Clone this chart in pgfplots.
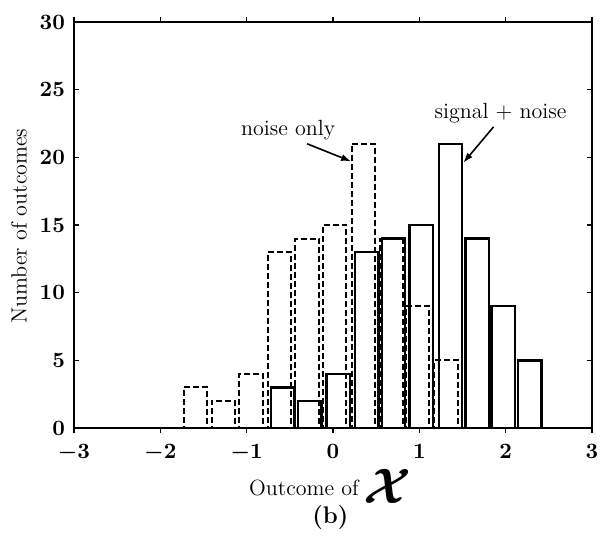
\documentclass[border=0pt]{standalone}
\usepackage{pgfplots}
\pgfplotsset{compat=1.18}
\usepackage{bm}
\usetikzlibrary{arrows.meta}

% Histogram of 100 outcomes, noise only and signal + noise
\pgfplotstableread{
x    n
-1.59 3
-1.27 2
-0.95 4
-0.62 13
-0.30 14
 0.02 15
 0.35 21
 0.68 14
 0.98 9
 1.31 5
}\noiseonly
\pgfplotstableread{
x    n
-0.58 3
-0.27 2
 0.06 4
 0.39 13
 0.70 14
 1.02 15
 1.36 21
 1.67 14
 1.97 9
 2.28 5
}\signalnoise

\begin{document}
\begin{tikzpicture}
\useasboundingbox (-37pt,-58pt) rectangle (263pt,214pt);
\begin{axis}[
  scale only axis,
  width=259pt, height=203pt,
  xmin=-3, xmax=3, ymin=0, ymax=30,
  xtick={-3,-2,-1,0,1,2,3},
  xticklabels={$\bm{-3}$,$\bm{-2}$,$\bm{-1}$,$\bm{0}$,$\bm{1}$,$\bm{2}$,$\bm{3}$},
  ytick={0,5,10,15,20,25,30},
  yticklabels={$\bm{0}$,$\bm{5}$,$\bm{10}$,$\bm{15}$,$\bm{20}$,$\bm{25}$,$\bm{30}$},
  tick align=inside,
  major tick length=2.5pt,
  axis line style={line width=1pt},
  tick style={line width=0.8pt, black},
  ticklabel style={font=\fontsize{10.5}{12}\selectfont},
  xticklabel style={yshift=-2pt},
  yticklabel style={xshift=-1pt},
  ybar, bar width=0.27, bar shift=0pt,
  clip=false,
]
\addplot[draw=black, fill=none, line width=1pt, dash pattern=on 3pt off 1.5pt]
  table[x=x, y=n] {\noiseonly};
\addplot[draw=black, fill=none, line width=1.2pt]
  table[x=x, y=n] {\signalnoise};

\node[rotate=90, font=\fontsize{11}{13}\selectfont]
  at (axis description cs:-0.106,0.497) {Number of outcomes};

\node[font=\fontsize{11}{13}\selectfont] at (axis cs:-0.52,22.0) {noise only};
\draw[-{Latex[length=5pt,width=3.5pt]}, line width=0.8pt]
  (axis cs:-0.30,21.0) -- (axis cs:0.21,19.7);
\node[font=\fontsize{11}{13}\selectfont] at (axis cs:1.94,23.3) {signal + noise};
\draw[-{Latex[length=5pt,width=3.5pt]}, line width=0.8pt]
  (axis cs:1.86,22.25) -- (axis cs:1.51,19.6);

\node[font=\fontsize{11}{13}\selectfont, anchor=east] at (axis cs:0.38,-4.4) {Outcome of};
\node[anchor=west, inner sep=0pt] at (axis cs:0.35,-4.3)
  {\fontsize{24}{24}\selectfont $\bm{\mathcal{X}}$};
\node[font=\fontsize{12}{14}\selectfont] at (axis cs:-0.03,-6.6) {\textbf{(b)}};
\end{axis}
\end{tikzpicture}
\end{document}
